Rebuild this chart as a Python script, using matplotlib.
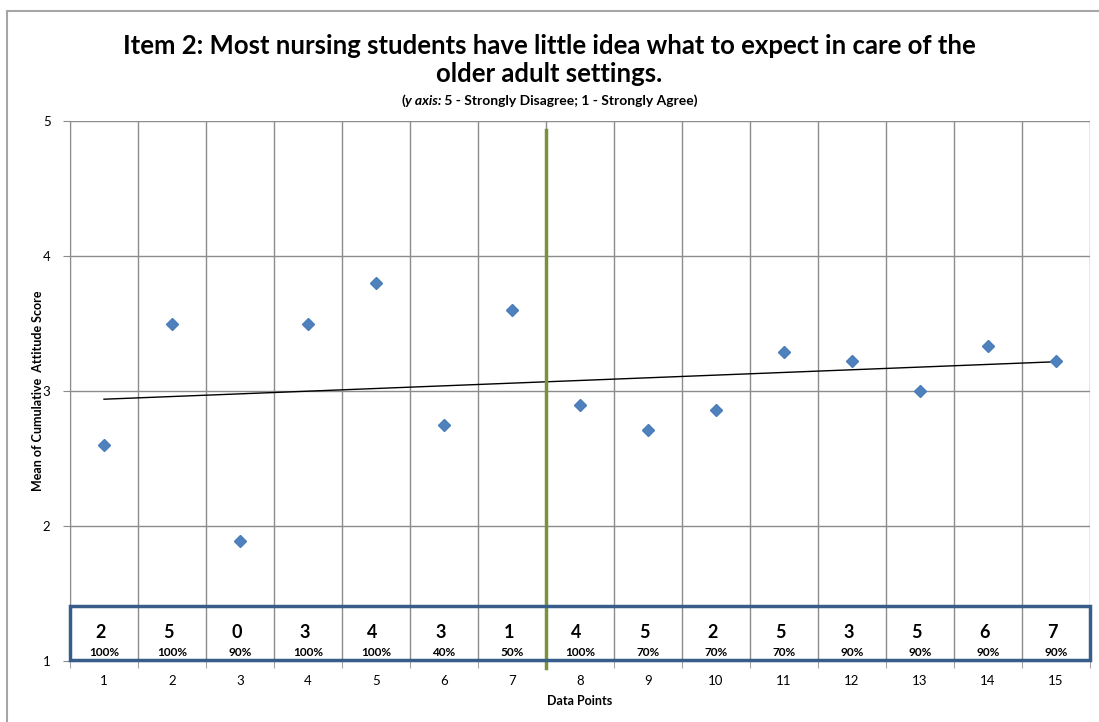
import numpy as np
import matplotlib.pyplot as plt
from matplotlib.patches import Rectangle

plt.rcParams['font.family'] = ['Lato', 'DejaVu Sans']

# mean cumulative attitude score per data point
points = np.arange(1, 16)
scores = [2.6, 3.5, 1.89, 3.5, 3.8, 2.75, 3.6, 2.9, 2.71, 2.86, 3.29, 3.22, 3.0, 3.33, 3.22]
# counts and percentages shown in the box at the bottom
counts = ['2', '5', '0', '3', '4', '3', '1', '4', '5', '2', '5', '3', '5', '6', '7']
percents = ['100%', '100%', '90%', '100%', '100%', '40%', '50%', '100%',
            '70%', '70%', '70%', '90%', '90%', '90%', '90%']
phase_split = 7.5

TITLE = 'Item 2: Most nursing students have little idea what to expect in care of the\nolder adult settings.'
SUB_PARTS = [('(', 'normal'), ('y axis:', 'italic'), (' 5 - Strongly Disagree; 1 - Strongly Agree)', 'normal')]
GRID_COL = '#8c8c8c'


def main():
    fig = plt.figure(figsize=(10.99, 7.22), dpi=100)
    ax = fig.add_axes([70 / 1099, 61 / 722, 1020 / 1099, 540 / 722])

    # outer chart border
    fig.patches.append(Rectangle((7 / 1099, -0.1), 1.2, (711 + 72) / 722,
                                 transform=fig.transFigure, fill=False,
                                 edgecolor='#a6a6a6', lw=1.5))

    ax.set_xlim(0.5, 15.5)
    ax.set_ylim(1, 5)
    ax.set_yticks([1, 2, 3, 4, 5])
    ax.set_xticks(points)
    ax.set_xticks(np.arange(0.5, 16, 1), minor=True)
    ax.tick_params(axis='x', which='major', length=0, labelsize=9.5, pad=10)
    ax.tick_params(axis='x', which='minor', length=5, color=GRID_COL)
    ax.tick_params(axis='y', length=5, color=GRID_COL, labelsize=9.5, pad=9)
    ax.grid(True, which='minor', axis='x', color=GRID_COL, lw=1)
    ax.grid(True, which='major', axis='y', color=GRID_COL, lw=1)
    for side in ['top', 'right']:
        ax.spines[side].set_visible(False)
    ax.spines['left'].set_color(GRID_COL)
    ax.spines['bottom'].set_color(GRID_COL)

    ax.plot(points, scores, linestyle='none', marker='D', ms=6.5,
            color='#4f81bd', mec='#4a7ebb', zorder=4)

    # linear trend line
    slope, icpt = np.polyfit(points, scores, 1)
    ax.plot([points[0], points[-1]], [icpt + slope * points[0], icpt + slope * points[-1]],
            color='black', lw=1, zorder=3)

    # phase split line
    ax.plot([phase_split, phase_split], [0.95, 4.93], color='#77933c', lw=2.5,
            clip_on=False, zorder=5)

    # box with counts/percent
    ax.add_patch(Rectangle((0.5, 1.01), 15.0, 0.40, fill=False,
                           edgecolor='#385d8a', lw=2.5, clip_on=False, zorder=6))
    for x, c, p in zip(points, counts, percents):
        ax.text(x - 0.05, 1.21, c, ha='center', va='center', fontsize=13,
                fontweight='bold', zorder=7)
        ax.text(x, 1.065, p, ha='center', va='center', fontsize=8.5,
                fontweight='bold', zorder=7)

    ax.set_xlabel('Data Points', fontsize=9, fontweight='bold', labelpad=6)
    ax.set_ylabel('Mean of Cumulative  Attitude Score', fontsize=9,
                  fontweight='bold', labelpad=-1)

    fig.text(0.5, 1 - 60 / 722, TITLE, ha='center', va='center', fontsize=18.5,
             fontweight='bold', linespacing=1.15)

    # subtitle with italic "y axis:" part, laid out piece by piece
    renderer = fig.canvas.get_renderer()
    pieces = []
    for txt, style in SUB_PARTS:
        t = fig.text(0, 1 - 101 / 722, txt, ha='left', va='center', fontsize=10,
                     fontweight='bold', fontstyle=style)
        pieces.append((t, t.get_window_extent(renderer).width))
    total = sum(w for _, w in pieces)
    x0 = 1099 / 2 - total / 2
    for t, w in pieces:
        t.set_x(x0 / 1099)
        x0 += w

    fig.savefig('out.png', dpi=100)


if __name__ == '__main__':
    main()
